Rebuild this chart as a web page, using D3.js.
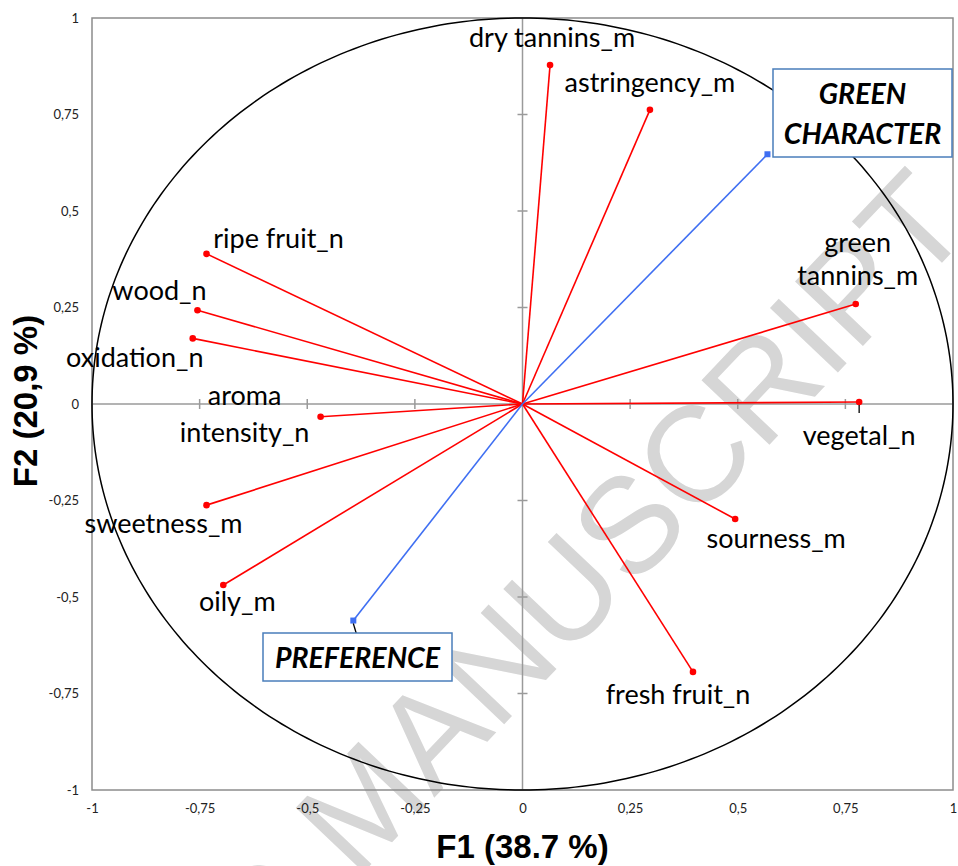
<!DOCTYPE html>
<html>
<head>
<meta charset="utf-8">
<script src="https://cdn.jsdelivr.net/npm/d3@7"></script>
<style>
  html, body { margin: 0; padding: 0; background: #fff; }
  svg { display: block; }
</style>
</head>
<body>
<svg id="chart" width="958" height="866"></svg>
<script>
// Correlation circle: variables projected on the F1/F2 factor plane
const variables = ["dry tannins_m", "astringency_m", "green tannins_m", "vegetal_n", "sourness_m",
  "fresh fruit_n", "oily_m", "sweetness_m", "aroma intensity_n", "oxidation_n", "wood_n", "ripe fruit_n"];
const f1 = [0.064, 0.296, 0.774, 0.782, 0.494, 0.396, -0.695, -0.734, -0.469, -0.766, -0.755, -0.734];
const f2 = [0.878, 0.762, 0.259, 0.005, -0.298, -0.694, -0.469, -0.262, -0.033, 0.170, 0.243, 0.389];

// Supplementary (projected) variables
const supplementary = ["GREEN CHARACTER", "PREFERENCE"];
const supF1 = [0.569, -0.393];
const supF2 = [0.647, -0.561];

const tickValues = [-1, -0.75, -0.5, -0.25, 0, 0.25, 0.5, 0.75, 1];
const tickLabels = ["-1", "-0,75", "-0,5", "-0,25", "0", "0,25", "0,5", "0,75", "1"];
const xTitle = "F1 (38.7 %)";
const yTitle = "F2 (20,9 %)";

// Label placement relative to each point: [dx, dy of first baseline, line gap]
const labelLayout = {
  "dry tannins_m": { dx: 2, dy: -18, lines: ["dry tannins_m"] },
  "astringency_m": { dx: 0, dy: -18, lines: ["astringency_m"] },
  "green tannins_m": { dx: 2, dy: -52, gap: 33, lines: ["green", "tannins_m"] },
  "vegetal_n": { dx: 0, dy: 43, lines: ["vegetal_n"] },
  "sourness_m": { dx: 41, dy: 29, lines: ["sourness_m"] },
  "fresh fruit_n": { dx: -15, dy: 32, lines: ["fresh fruit_n"] },
  "oily_m": { dx: 14, dy: 26, lines: ["oily_m"] },
  "sweetness_m": { dx: -43, dy: 28, lines: ["sweetness_m"] },
  "aroma intensity_n": { dx: -76, dy: -12, gap: 37, lines: ["aroma", "intensity_n"] },
  "oxidation_n": { dx: -58, dy: 29, lines: ["oxidation_n"] },
  "wood_n": { dx: -38, dy: -10, lines: ["wood_n"] },
  "ripe fruit_n": { dx: 72, dy: -6, lines: ["ripe fruit_n"] }
};

const svg = d3.select("#chart");
const x = d3.scaleLinear().domain([-1, 1]).range([92, 953]);
const y = d3.scaleLinear().domain([-1, 1]).range([790, 18]);

const labelFont = "Lato, 'Open Sans', sans-serif";

// Watermark behind the plot
svg.append("text")
  .attr("transform", "translate(975,228) rotate(-46.5)")
  .attr("text-anchor", "end")
  .attr("font-family", "'Liberation Sans', Arial, sans-serif")
  .attr("font-size", 136)
  .attr("fill", "#d6d6d6")
  .text("ACCEPTED MANUSCRIPT");

// Plot frame
svg.append("rect")
  .attr("x", x(-1)).attr("y", y(1))
  .attr("width", x(1) - x(-1)).attr("height", y(-1) - y(1))
  .attr("fill", "none").attr("stroke", "#8c8c8c").attr("stroke-width", 1.5);

// Zero axes with cross ticks
const zero = svg.append("g").attr("stroke", "#9a9a9a").attr("stroke-width", 1.5);
zero.append("line").attr("x1", x(-1)).attr("x2", x(1)).attr("y1", y(0)).attr("y2", y(0));
zero.append("line").attr("x1", x(0)).attr("x2", x(0)).attr("y1", y(1)).attr("y2", y(-1));
tickValues.filter(v => v !== 0 && Math.abs(v) !== 1).forEach(v => {
  zero.append("line").attr("x1", x(v)).attr("x2", x(v)).attr("y1", y(0) - 5).attr("y2", y(0) + 5);
  zero.append("line").attr("x1", x(0) - 5).attr("x2", x(0) + 5).attr("y1", y(v)).attr("y2", y(v));
});

// Tick labels along the frame
const fmt = d => tickLabels[tickValues.indexOf(d)];
const yAxis = svg.append("g")
  .attr("transform", `translate(${x(-1)},0)`)
  .call(d3.axisLeft(y).tickValues(tickValues).tickFormat(fmt).tickSize(0).tickPadding(13));
const xAxis = svg.append("g")
  .attr("transform", `translate(0,${y(-1)})`)
  .call(d3.axisBottom(x).tickValues(tickValues).tickFormat(fmt).tickSize(0).tickPadding(14));
[xAxis, yAxis].forEach(a => {
  a.select(".domain").remove();
  a.selectAll("text").attr("font-family", labelFont).attr("font-size", 13).attr("fill", "#222");
});

// Unit correlation circle
svg.append("path")
  .attr("d", d3.line().curve(d3.curveLinearClosed)(
    d3.range(0, 360, 1).map(a => [x(Math.cos(a * Math.PI / 180)), y(Math.sin(a * Math.PI / 180))])))
  .attr("fill", "none").attr("stroke", "#000").attr("stroke-width", 1.5);

// Variable vectors
const vars = variables.map((name, i) => ({ name, f1: f1[i], f2: f2[i] }));
svg.append("g").selectAll("line").data(vars).join("line")
  .attr("x1", x(0)).attr("y1", y(0))
  .attr("x2", d => x(d.f1)).attr("y2", d => y(d.f2))
  .attr("stroke", "#ff0000").attr("stroke-width", 1.6);
svg.append("g").selectAll("circle").data(vars).join("circle")
  .attr("cx", d => x(d.f1)).attr("cy", d => y(d.f2)).attr("r", 3.3)
  .attr("fill", "#ff0000");

// Supplementary vectors
const sups = supplementary.map((name, i) => ({ name, f1: supF1[i], f2: supF2[i] }));
svg.append("g").selectAll("line").data(sups).join("line")
  .attr("x1", x(0)).attr("y1", y(0))
  .attr("x2", d => x(d.f1)).attr("y2", d => y(d.f2))
  .attr("stroke", "#3f6ff2").attr("stroke-width", 1.6);
svg.append("g").selectAll("rect").data(sups).join("rect")
  .attr("x", d => x(d.f1) - 3).attr("y", d => y(d.f2) - 3)
  .attr("width", 6).attr("height", 6)
  .attr("fill", "#3f6ff2");

// Short leader lines
const leaders = svg.append("g").attr("stroke", "#000").attr("stroke-width", 1.3);
leaders.append("line")
  .attr("x1", x(supF1[1])).attr("y1", y(supF2[1]) + 3)
  .attr("x2", x(supF1[1]) + 3).attr("y2", y(supF2[1]) + 13);
leaders.append("line")
  .attr("x1", x(f1[3])).attr("y1", y(f2[3]) + 3)
  .attr("x2", x(f1[3])).attr("y2", y(f2[3]) + 11);

// Variable labels
const labels = svg.append("g")
  .attr("font-family", labelFont).attr("font-size", 27).attr("fill", "#000")
  .attr("text-anchor", "middle");
vars.forEach(d => {
  const L = labelLayout[d.name];
  const t = labels.append("text");
  L.lines.forEach((ln, k) => {
    t.append("tspan")
      .attr("x", x(d.f1) + L.dx)
      .attr("y", y(d.f2) + L.dy + k * (L.gap || 0))
      .text(ln);
  });
});

// Boxed labels for supplementary variables
const boxes = [
  { name: supplementary[0], x0: 773, y0: 69, x1: 952, y1: 157, lines: ["GREEN", "CHARACTER"], base: 104, gap: 40 },
  { name: supplementary[1], x0: 263, y0: 633, x1: 452, y1: 681, lines: ["PREFERENCE"], base: 668, gap: 0 }
];
boxes.forEach(b => {
  svg.append("rect")
    .attr("x", b.x0).attr("y", b.y0).attr("width", b.x1 - b.x0).attr("height", b.y1 - b.y0)
    .attr("fill", "#fff").attr("stroke", "#4a7ebb").attr("stroke-width", 1.5);
  const t = svg.append("text")
    .attr("font-family", labelFont).attr("font-size", 28.5)
    .attr("font-weight", "bold").attr("font-style", "italic")
    .attr("text-anchor", "middle").attr("fill", "#000");
  b.lines.forEach((ln, k) => {
    t.append("tspan").attr("x", (b.x0 + b.x1) / 2).attr("y", b.base + k * b.gap).text(ln);
  });
});

// Axis titles
svg.append("text")
  .attr("x", x(0)).attr("y", 858)
  .attr("text-anchor", "middle")
  .attr("font-family", "'Liberation Sans', Arial, sans-serif")
  .attr("font-weight", "bold").attr("font-size", 33)
  .text(xTitle);
svg.append("text")
  .attr("transform", `translate(37,${y(0) - 3}) rotate(-90)`)
  .attr("text-anchor", "middle")
  .attr("font-family", "'Liberation Sans', Arial, sans-serif")
  .attr("font-weight", "bold").attr("font-size", 33)
  .text(yTitle);
</script>
</body>
</html>
